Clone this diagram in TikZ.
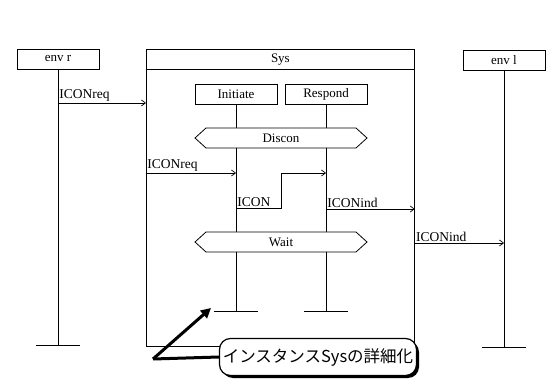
\documentclass[tikz,border=0pt]{standalone}
\usepackage{fontspec}
\setmainfont{Liberation Serif}
\newfontfamily\jpfont{Noto Sans CJK JP}
\usetikzlibrary{arrows.meta,shadows}
\begin{document}
\begin{tikzpicture}[x=1pt,y=-1pt,
  box/.style={draw, line width=0.8pt, minimum width=82pt, minimum height=20pt, inner sep=0pt, font=\fontsize{13}{13}\selectfont},
  life/.style={line width=0.9pt},
  sig/.style={line width=0.7pt, -{Straight Barb[length=4pt,width=6pt]}},
  lbl/.style={font=\fontsize{13.5}{13.5}\selectfont, inner sep=1pt, anchor=south west},
  hexa/.style={draw, line width=0.8pt, fill=white},
  hexlbl/.style={font=\fontsize{13}{13}\selectfont, inner sep=0pt}
]
\useasboundingbox (0,0) rectangle (555,385);

% frame of Sys
\node[draw, line width=0.8pt, minimum width=268pt, minimum height=297pt, anchor=north west, inner sep=0pt] (sys) at (146,49) {};
\node[box, minimum width=268pt, anchor=north west] (syshead) at (146,49) {Sys};

% environment instances
\node[box] (envr) at (58,59) {env r};
\node[box] (envl) at (504,60) {env l};
\coordinate (envrEnd) at (58,345);
\coordinate (envlEnd) at (504,347);
\draw[life] (envr.south) -- (envrEnd);
\draw[life] (envl.south) -- (envlEnd);
\draw[life] ([xshift=-22pt]envrEnd) -- ([xshift=22pt]envrEnd);
\draw[life] ([xshift=-22pt]envlEnd) -- ([xshift=22pt]envlEnd);

% inner instances
\node[box] (init) at (236,94) {Initiate};
\node[box] (resp) at (326,94) {Respond};
\coordinate (initEnd) at (236,311);
\coordinate (respEnd) at (326,311);
\draw[life] (init.south) -- (initEnd);
\draw[life] (resp.south) -- (respEnd);
\draw[life] ([xshift=-22pt]initEnd) -- ([xshift=22pt]initEnd);
\draw[life] ([xshift=-22pt]respEnd) -- ([xshift=22pt]respEnd);

% states
\draw[hexa] (195,138) -- (206,128) -- (356,128) -- (367,138) -- (356,148) -- (206,148) -- cycle;
\node[hexlbl] (discon) at (281,138) {Discon};
\draw[hexa] (195,242) -- (206,232) -- (356,232) -- (367,242) -- (356,252) -- (206,252) -- cycle;
\node[hexlbl] (wait) at (281,242) {Wait};

% signals
\draw[sig] (envr.south |- 0,103) -- node[lbl, pos=0]{ICONreq} (sys.west |- 0,103);
\draw[sig] (sys.west |- 0,173) -- node[lbl, pos=0]{ICONreq} (init.south |- 0,173);
\coordinate (iconA) at (281,208);
\coordinate (iconB) at (281,173);
\draw[sig] (init.south |- 0,208) -- node[lbl, pos=0]{ICON} (iconA) -- (iconB) -- (resp.south |- 0,173);
\draw[sig] (resp.south |- 0,209) -- node[lbl, pos=0]{ICONind} (sys.east |- 0,209);
\draw[sig] (sys.east |- 0,243) -- node[lbl, pos=0]{ICONind} (envl.south |- 0,243);

% annotation
\node[draw, line width=1.2pt, fill=white, rounded corners=11pt, minimum width=197pt, minimum height=37pt, inner sep=0pt,
  drop shadow={shadow xshift=2.5pt, shadow yshift=-2.5pt, fill=black, opacity=1},
  font=\jpfont\fontsize{16.5}{16.5}\selectfont] (note) at (318,357) {インスタンスSysの詳細化};
\coordinate (corner) at (153,359);
\coordinate (target) at (211,308);
\draw[line width=3pt] (note.west) -- (corner);
\draw[line width=3pt, line join=round, -{Triangle[length=10pt,width=10pt]}] (corner) -- (target);
\end{tikzpicture}
\end{document}
